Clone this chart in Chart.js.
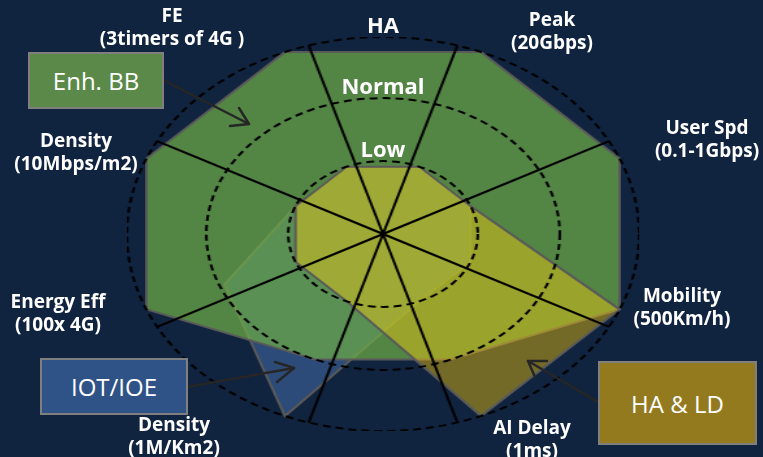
<!DOCTYPE html>
<html>
<head>
<meta charset="utf-8">
<script src="https://cdn.jsdelivr.net/npm/chart.js@4"></script>
<style>
  body { margin: 0; background: #10233f; }
  #stage { position: relative; width: 763px; height: 457px; background: #10233f; overflow: hidden;
           font-family: "Open Sans", "Noto Sans", sans-serif; color: #fff; }
  #wrap { position: absolute; left: 186px; top: 37px; width: 394px; height: 394px;
          transform: scaleX(1.3); transform-origin: 197px 197px; }
  .lbl { position: absolute; font-weight: bold; font-size: 19px; line-height: 23px;
         text-align: center; white-space: nowrap; transform: translate(-50%, -50%); }
  .ring { position: absolute; font-weight: bold; font-size: 22px; line-height: 24px;
          white-space: nowrap; transform: translate(-50%, -50%); }
  .box { position: absolute; box-sizing: border-box; border: 2.5px solid #7f7f7f;
         display: flex; align-items: center; justify-content: center; font-size: 24px; }
  svg { position: absolute; left: 0; top: 0; }
</style>
</head>
<body>
<div id="stage">
  <div id="wrap"><canvas id="radar" width="394" height="394"></canvas></div>
  <svg width="763" height="457">
    <g fill="none" stroke="#262626" stroke-width="2.5" stroke-linecap="round" stroke-linejoin="round">
      <line x1="163" y1="80" x2="249" y2="124"/>
      <polyline points="230,126 249,124 239,108"/>
      <line x1="187" y1="387" x2="294" y2="368"/>
      <polyline points="275,362 294,368 277,382"/>
      <line x1="598" y1="402" x2="528" y2="361"/>
      <polyline points="547,361 528,361 535,377"/>
    </g>
  </svg>
</div>
<script>
// axes, clockwise from the upper-left spoke
const axes = [
  ['FE', '(3timers of 4G )'],
  ['Peak', '(20Gbps)'],
  ['User Spd', '(0.1-1Gbps)'],
  ['Mobility', '(500Km/h)'],
  ['AI Delay', '(1ms)'],
  ['Density', '(1M/Km2)'],
  ['Energy Eff', '(100x 4G)'],
  ['Density', '(10Mbps/m2)']
];
const ringNames = ['Low', 'Normal', 'HA'];
const ringValues = [37, 69, 100];

const enhBB = [100, 100, 100, 100, 69, 69, 100, 100];
const haLd  = [37, 37, 37, 100, 100, 37, 37, 37];
const iotIoe = [37, 37, 37, 37, 37, 100, 67, 37];

// the drawn spokes lean a little toward the vertical compared with the polygon corners
const SUB = 8;
const spokeTilt = [1, -1, -1, 1, 1, -1, -1, 1];

// where the axis captions sit on the page
const labelPos = [[172, 27], [552, 31], [707, 139], [682, 307], [532, 439], [174, 436], [58, 313], [76, 152]];
const boxes = [
  { text: 'Enh. BB', x: 28, y: 52, w: 136, h: 57, bg: '#5a894a' },
  { text: 'IOT/IOE', x: 40, y: 358, w: 148, h: 57, bg: '#2f5386' },
  { text: 'HA & LD', x: 598, y: 361, w: 159, h: 84, bg: '#937a1f' }
];

const stage = document.getElementById('stage');
axes.forEach((a, i) => {
  const d = document.createElement('div');
  d.className = 'lbl';
  d.innerHTML = a.join('<br>');
  d.style.left = labelPos[i][0] + 'px';
  d.style.top = labelPos[i][1] + 'px';
  stage.appendChild(d);
});
boxes.forEach(b => {
  const d = document.createElement('div');
  d.className = 'box';
  d.textContent = b.text;
  Object.assign(d.style, { left: b.x + 'px', top: b.y + 'px', width: b.w + 'px', height: b.h + 'px', background: b.bg });
  stage.appendChild(d);
});

const cx = 383, cy = 234, R = 197;
ringNames.forEach((n, i) => {
  const d = document.createElement('div');
  d.className = 'ring';
  d.textContent = n;
  d.style.left = cx + 'px';
  d.style.top = (cy - R * ringValues[i] / 100 - 13) + 'px';
  stage.appendChild(d);
});

// fine angular grid: every SUB-th slot is an axis, the rest stay empty
const nSlots = axes.length * SUB;
const slotLabels = Array.from({ length: nSlots }, (_, s) => s % SUB === 0 ? axes[s / SUB].join(' ') : '');
const toSlots = vals => Array.from({ length: nSlots }, (_, s) => s % SUB === 0 ? vals[s / SUB] : null);
const spokeSlots = spokeTilt.map((t, k) => (k * SUB + t + nSlots) % nSlots);

new Chart(document.getElementById('radar'), {
  type: 'radar',
  data: {
    labels: slotLabels,
    datasets: [
      { label: 'HA & LD', data: toSlots(haLd), backgroundColor: 'rgba(255,205,10,0.42)', borderColor: '#5a5a5a', borderWidth: 2, fill: true, spanGaps: true },
      { label: 'Enh. BB', data: toSlots(enhBB), backgroundColor: 'rgba(112,173,71,0.71)', borderColor: '#5a5a5a', borderWidth: 2, fill: true, spanGaps: true },
      { label: 'IOT/IOE', data: toSlots(iotIoe), backgroundColor: '#2c4b78', borderColor: '#5a5a5a', borderWidth: 2, fill: true, spanGaps: true }
    ]
  },
  options: {
    responsive: false,
    animation: false,
    layout: { padding: 0 },
    elements: { point: { radius: 0, hoverRadius: 0 }, line: { tension: 0 } },
    plugins: { legend: { display: false }, tooltip: { enabled: false } },
    scales: {
      r: {
        min: 0,
        max: 100,
        startAngle: -22.5,
        afterBuildTicks: (scale) => {
          scale.ticks = [0].concat(ringValues).map(v => ({ value: v }));
        },
        ticks: { display: false, z: 1 },
        pointLabels: { display: false },
        grid: { circular: true, color: '#000', lineWidth: 2, z: 1 },
        border: { dash: [6, 4], z: 1 },
        angleLines: {
          color: '#000',
          lineWidth: (ctx) => spokeSlots.includes(ctx.index) ? 2 : 0
        }
      }
    }
  }
});
</script>
</body>
</html>
